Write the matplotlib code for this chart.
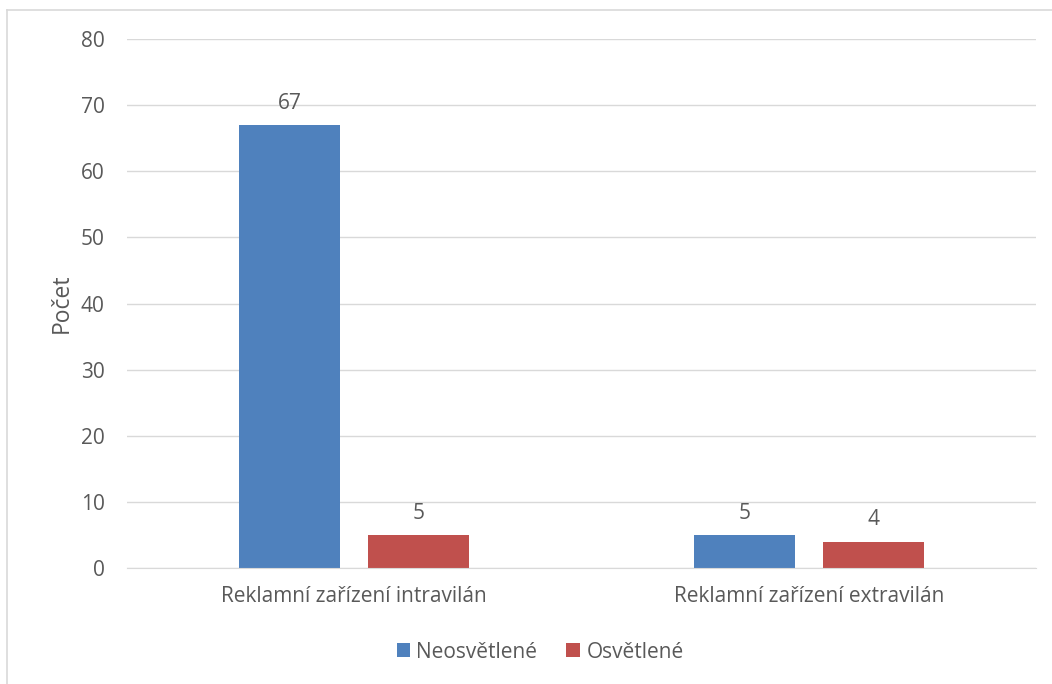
import matplotlib
matplotlib.use("Agg")
import matplotlib.pyplot as plt
from matplotlib.lines import Line2D
from matplotlib.patches import Patch
import numpy as np

categories = ["Reklamní zařízení intravilán", "Reklamní zařízení extravilán"]
series_names = ["Neosvětlené", "Osvětlené"]
neosvetlene = [67, 5]
osvetlene = [5, 4]
yticks = [0, 10, 20, 30, 40, 50, 60, 70, 80]
colors = ["#4f81bd", "#c0504d"]
text_color = "#595959"

plt.rcParams['font.family'] = ['Open Sans', 'DejaVu Sans']

W, H = 1052, 684
fig = plt.figure(figsize=(W / 100, H / 100), dpi=100)
ax = fig.add_axes([127 / W, 1 - 568 / H, (1036 - 127) / W, (568 - 39) / H])

FS = 15
x = np.arange(len(categories))
bw = 0.222
off = 0.142
for vals, o, c in [(neosvetlene, -off, colors[0]), (osvetlene, off, colors[1])]:
    bars = ax.bar(x + o, vals, width=bw, color=c, zorder=3)
    for b, v in zip(bars, vals):
        ax.annotate(str(v), (b.get_x() + b.get_width() / 2, v), xytext=(0, 8),
                    textcoords="offset points", ha="center", va="bottom",
                    fontsize=FS, color=text_color)

ax.set_xlim(-0.5, 1.5)
ax.set_ylim(0, 80)
ax.set_yticks(yticks)
ax.set_xticks(x)
ax.set_xticklabels(categories)
ax.tick_params(axis="both", length=0, labelsize=FS, colors=text_color)
ax.tick_params(axis="y", pad=16)
ax.tick_params(axis="x", pad=13)
ax.grid(axis="y", color="#d9d9d9", linewidth=1, zorder=0)
for s in ["top", "right", "left"]:
    ax.spines[s].set_visible(False)
ax.spines["bottom"].set_color("#d9d9d9")
ax.spines["bottom"].set_zorder(4)
ax.set_ylabel("Počet", fontsize=16.5, color=text_color, labelpad=5)

handles = [Patch(facecolor=colors[0]), Patch(facecolor=colors[1])]
fig.legend(handles, series_names, loc="center", bbox_to_anchor=(540 / W, 1 - 652 / H),
           ncol=2, frameon=False, fontsize=FS, labelcolor=text_color,
           handlelength=0.65, handleheight=0.65, handletextpad=0.3, columnspacing=1.4)

# outer frame (top and left edges visible)
fig.add_artist(Line2D([7 / W, 1], [1 - 10 / H, 1 - 10 / H], color="#d9d9d9", lw=1.2,
                      transform=fig.transFigure))
fig.add_artist(Line2D([7 / W, 7 / W], [0, 1 - 10 / H], color="#d9d9d9", lw=1.2,
                      transform=fig.transFigure))

fig.savefig("out.png", dpi=100, facecolor="white")
